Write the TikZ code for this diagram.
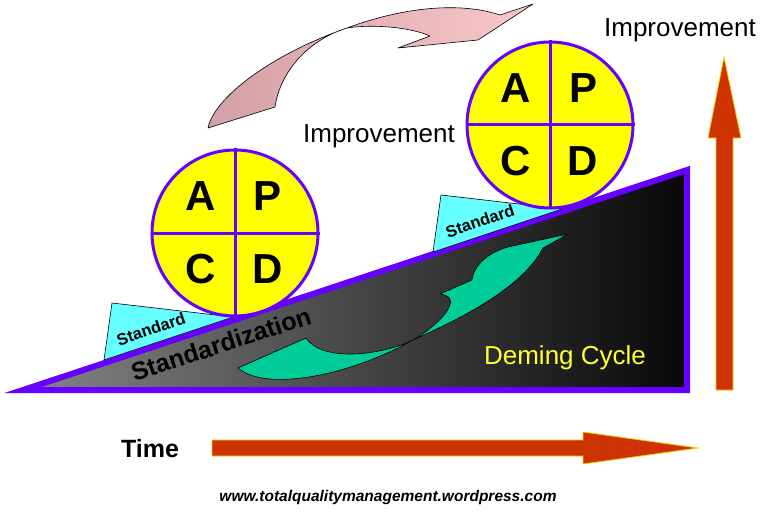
\documentclass[tikz,border=0pt]{standalone}
\usepackage{fontspec}
\setmainfont{Liberation Sans}
\usetikzlibrary{calc}
\definecolor{rim}{HTML}{6600FF}
\definecolor{pdca}{HTML}{FFFF00}
\definecolor{shim}{HTML}{66FFFF}
\definecolor{leaf}{HTML}{00CC99}
\definecolor{rust}{HTML}{CC3300}
\definecolor{glow}{HTML}{FFCC00}
\definecolor{blush}{HTML}{D29FA6}
\definecolor{blushlt}{HTML}{FAC8C8}
\definecolor{cycletxt}{HTML}{FFFF33}

\begin{document}
\begin{tikzpicture}[x=1pt, y=-1pt,
  wheel/.style={circle, draw=rim, line width=3pt, fill=pdca,
                minimum size=166pt, inner sep=0pt},
  spoke/.style={draw=rim, line width=3pt},
  letter/.style={font=\fontsize{42}{42}\selectfont\bfseries, inner sep=0pt},
  wedge/.style={fill=shim, draw=black, line width=0.6pt},
  tag/.style={font=\fontsize{16.5}{17}\selectfont\bfseries, rotate=19, inner sep=0pt},
  lbl/.style={font=\fontsize{26}{28}\selectfont, inner sep=0pt},
  bigarrow/.style={fill=rust, draw=glow, line width=0.8pt},
  ribbon/.style={draw=black, line width=0.6pt, line join=round}]
  \useasboundingbox[fill=white] (0,0) rectangle (768,513);

  % the slope
  \path[draw=rim, line width=6pt, left color=black!48, right color=black!97]
    (23,390) -- (687,390) -- (687,170) -- cycle;

  % wedges under the wheels
  \path[wedge] (112,303) -- (104,360) -- (233,317) -- cycle;
  \path[wedge] (441,195) -- (433,252) -- (562,209) -- cycle;
  \node[tag] (std1) at (151,329) {Standard};
  \node[tag] (std2) at (480,221) {Standard};

  % green ribbon arrow
  \path[ribbon, fill=leaf] (238,368) .. controls (264,391) and (345,378) .. (413,340)
    .. controls (462,318) and (522,288) .. (543,248) -- (568,234) -- (508,247)
    .. controls (490,252) and (474,264) .. (472,280) -- (440,294)
    .. controls (466,297) and (438,326) .. (413,340)
    .. controls (380,356) and (322,362) .. (306,338) -- cycle;

  % pink ribbon arrow
  \path[ribbon, left color=blush, right color=blushlt] (208,128)
    .. controls (214,98) and (270,55) .. (347,28)
    .. controls (395,10) and (455,0) .. (500,15) -- (533,4) -- (478,40)
    -- (398,48) -- (430,36) .. controls (410,27) and (372,24) .. (347,28)
    .. controls (308,40) and (280,72) .. (275,107) -- cycle;

  \foreach \cx/\cy/\nm in {235/233/w1, 550/125/w2} {
    \node[wheel] (\nm) at (\cx,\cy) {};
    \draw[spoke] (\nm.north) -- (\nm.south);
    \draw[spoke] (\nm.west) -- (\nm.east);
    \node[letter] (\nm-a) at ($(\nm)+(-34,-37)$) {A};
    \node[letter] (\nm-p) at ($(\nm)+(33,-37)$) {P};
    \node[letter] (\nm-c) at ($(\nm)+(-34,36)$) {C};
    \node[letter] (\nm-d) at ($(\nm)+(33,36)$) {D};
  }

  \node[font=\fontsize{25}{26}\selectfont\bfseries, rotate=18, inner sep=0pt]
    (stdz) at (221,344) {Standardization};
  \node[lbl, text=cycletxt] (deming) at (565,358) {Deming Cycle};
  \node[lbl] (impr) at (379,136) {Improvement};
  \node[lbl] (imprtop) at (680,30) {Improvement};

  % axes
  \path[bigarrow] (716,390) -- (716,138) -- (708,138) -- (724,57)
    -- (741,138) -- (733,138) -- (733,390) -- cycle;
  \path[bigarrow] (212,440) -- (583,440) -- (583,432) -- (698,448)
    -- (583,464) -- (583,456) -- (212,456) -- cycle;
  \node[font=\fontsize{25}{26}\selectfont\bfseries, inner sep=0pt] (time) at (150,449) {Time};
  \node[font=\fontsize{15.5}{16}\selectfont\bfseries\itshape, inner sep=0pt] (url) at (388,497)
    {www.totalqualitymanagement.wordpress.com};
\end{tikzpicture}
\end{document}
